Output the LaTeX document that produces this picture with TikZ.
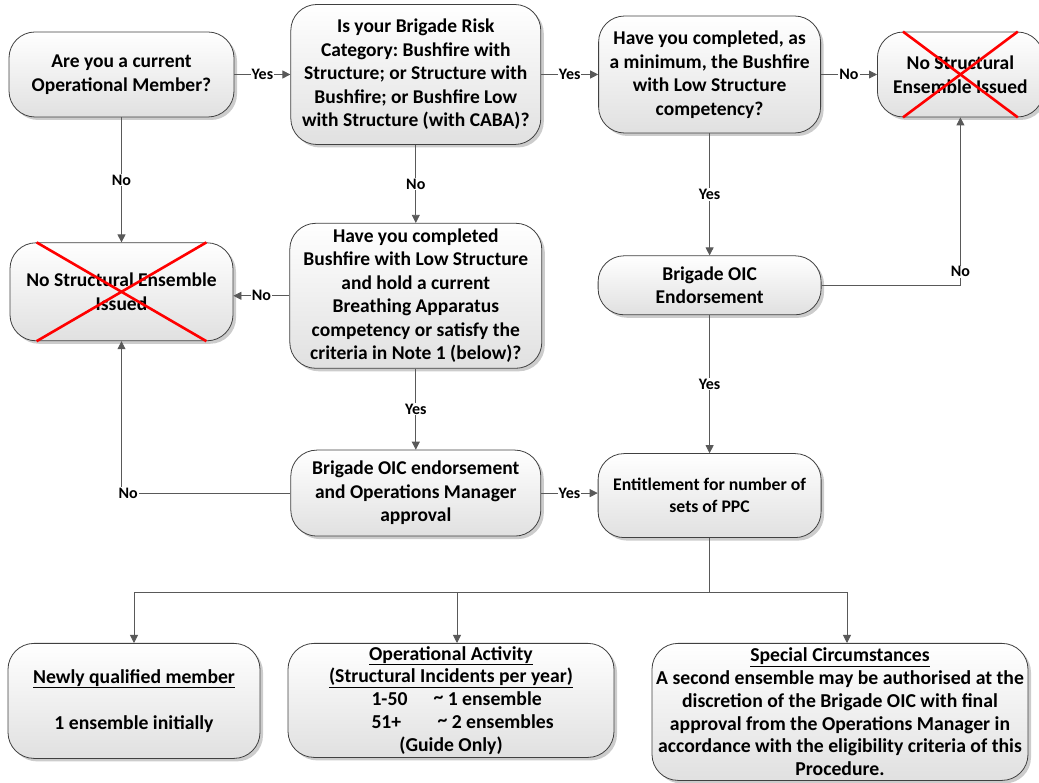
\documentclass[tikz,border=0pt]{standalone}
\usepackage{fontspec}
\setmainfont{Carlito}
\usetikzlibrary{arrows.meta, positioning, shadows}
\frenchspacing

\begin{document}
\begin{tikzpicture}[
  x=1pt, y=1pt,
  box/.style={draw=black!75, line width=0.8pt, rounded corners=26pt,
              top color=white, bottom color=black!12, align=center,
              font=\bfseries\fontsize{19.5pt}{23.5pt}\selectfont, inner sep=2pt,
              drop shadow={shadow xshift=3pt, shadow yshift=-3pt, fill=black!40}},
  optbox/.style={box, anchor=north, inner sep=1pt,
                 font=\bfseries\fontsize{19.7pt}{22.8pt}\selectfont},
  lbl/.style={fill=white, inner sep=1pt,
              font=\bfseries\fontsize{16pt}{18pt}\selectfont},
  link/.style={draw=black!65, line width=0.8pt},
  cross/.style={draw=red, line width=2.6pt},
  >={Triangle[length=8pt, width=8pt]}
]
\useasboundingbox (0,0) rectangle (1039,782);

\node[box, minimum width=225pt, minimum height=85pt] (member) at (121.5,707.5)
  {Are you a current\\Operational Member?};
\node[box, right=56pt of member, minimum width=250pt, minimum height=140pt] (risk)
  {Is your Brigade Risk\\Category: Bushfire with\\Structure; or Structure with\\Bushfire; or Bushfire Low\\with Structure (with CABA)?};
\node[box, right=57pt of risk, minimum width=222pt, minimum height=117pt] (minimum)
  {Have you completed, as\\a minimum, the Bushfire\\with Low Structure\\competency?};
\node[box, right=56pt of minimum, minimum width=166pt, minimum height=85pt] (noissueR)
  {No Structural\\Ensemble Issued};
\node[box, below=125pt of member, minimum width=223pt, minimum height=98pt] (noissueL)
  {No Structural Ensemble\\Issued};
\node[box, below=78pt of risk, minimum width=252pt, minimum height=145pt] (breathing)
  {Have you completed\\Bushfire with Low Structure\\and hold a current\\Breathing Apparatus\\competency or satisfy the\\criteria in Note 1 (below)?};
\node[box, below=122pt of minimum, minimum width=223pt, minimum height=59pt] (oic)
  {Brigade OIC\\Endorsement};
\node[box, below=81pt of breathing, minimum width=250pt, minimum height=86pt] (approval)
  {Brigade OIC endorsement\\and Operations Manager\\approval};
\node[box, below=138pt of oic, minimum width=223pt, minimum height=84pt,
      font=\bfseries\fontsize{17.7pt}{22pt}\selectfont] (entitle)
  {Entitlement for number of\\sets of PPC};

\node[optbox, minimum width=252pt, minimum height=115pt] (newly) at (134,139)
  {\underline{Newly qualified member}\\[23.5pt]1 ensemble initially};
\node[optbox, minimum width=326pt, minimum height=114pt] (activity) at (451,139)
  {\underline{Operational Activity}\\
   \underline{(Structural Incidents per year)}\\
   \makebox[159pt][l]{\makebox[62pt][l]{1-50}\raisebox{2pt}{\textasciitilde}\ 1 ensemble}\\
   \makebox[159pt][l]{\makebox[66pt][l]{51+}\raisebox{2pt}{\textasciitilde}\ 2 ensembles}\\
   (Guide Only)};
\node[optbox, minimum width=376pt, minimum height=137pt] (special) at (840,139)
  {\underline{Special Circumstances}\\
   A second ensemble may be authorised at the\\
   discretion of the Brigade OIC with final\\
   approval from the Operations Manager in\\
   accordance with the eligibility criteria of this\\
   Procedure.};

\draw[link, ->] (member) -- node[lbl] {Yes} (risk);
\draw[link, ->] (risk) -- node[lbl] {Yes} (minimum);
\draw[link, ->] (minimum) -- node[lbl] {No} (noissueR);
\draw[link, ->] (member) -- node[lbl] {No} (noissueL);
\draw[link, ->] (risk) -- node[lbl] {No} (breathing);
\draw[link, ->] (minimum) -- node[lbl] {Yes} (oic);
\draw[link, ->] (breathing.west) -- node[lbl] {No} (breathing.west -| noissueL.east);
\draw[link, ->] (breathing) -- node[lbl] {Yes} (approval);
\draw[link, ->] (oic.east) -| node[lbl, pos=0.54] {No} (noissueR.south);
\draw[link, ->] (oic) -- node[lbl] {Yes} (entitle);
\draw[link, ->] (approval.east) -- node[lbl] {Yes} (approval.east -| entitle.west);
\draw[link, ->] (approval.west) -| node[lbl, pos=0.48] {No} (noissueL.south);

\coordinate (split) at ([yshift=-54pt]entitle.south);
\draw[link] (entitle) -- (split);
\draw[link, ->] (split) -| (newly.north);
\draw[link, ->] (split) -| ([xshift=6pt]activity.north);
\draw[link, ->] (split) -| ([xshift=7pt]special.north);

\draw[cross] ([xshift=27pt]noissueL.north west) -- ([xshift=-27pt]noissueL.south east);
\draw[cross] ([xshift=-27pt]noissueL.north east) -- ([xshift=27pt]noissueL.south west);
\draw[cross] ([xshift=26pt]noissueR.north west) -- ([xshift=-26pt]noissueR.south east);
\draw[cross] ([xshift=-26pt]noissueR.north east) -- ([xshift=26pt]noissueR.south west);
\end{tikzpicture}
\end{document}
